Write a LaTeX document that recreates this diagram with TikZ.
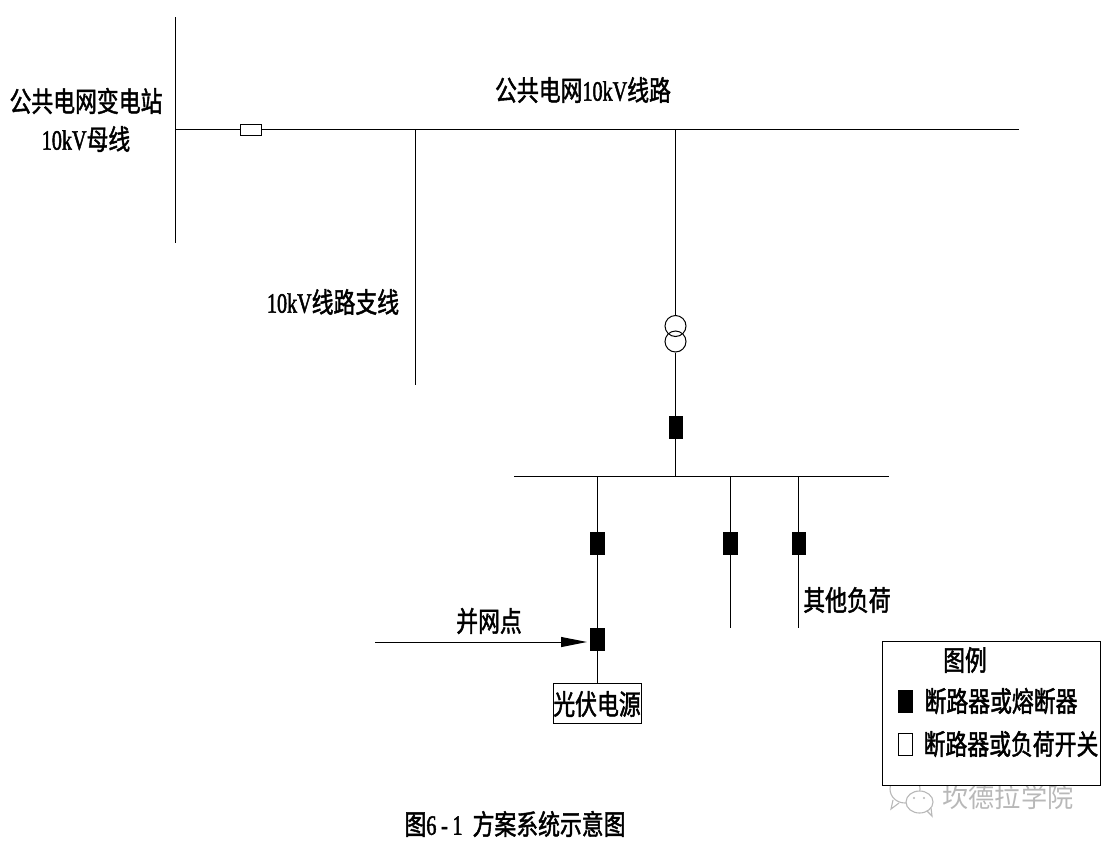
\documentclass[tikz,border=0pt]{standalone}
\usepackage{fontspec}
\usepackage{tikz}
\usetikzlibrary{arrows.meta}
\setmainfont{Noto Sans CJK SC}[FakeStretch=0.78,FakeBold=1.6]
\newfontfamily\markfont{Noto Sans CJK SC}[FakeStretch=0.97]
\newfontfamily\latfont{Liberation Serif}[FakeStretch=0.72,FakeBold=1.6]
\newcommand{\lat}[1]{{\latfont #1}}
\tikzset{
  wire/.style={line width=1pt,black},
  label/.style={inner sep=0pt,font=\fontsize{28}{34}\selectfont},
  breaker/.style={draw=black,fill=black,minimum width=13pt,minimum height=22pt,inner sep=0pt},
  switchbox/.style={draw=black,fill=white,line width=.8pt,minimum width=21pt,minimum height=11pt,inner sep=0pt},
  coil/.style={circle,draw=black,line width=1pt,minimum size=21pt,inner sep=0pt},
  wmark/.style={black!28,line width=1.1pt}
}
\begin{document}
\begin{tikzpicture}[x=1pt,y=-1pt]
\useasboundingbox (0,0) rectangle (1111,847);
\coordinate (bustop) at (175.5,17);
\coordinate (busbot) at (175.5,243);
\coordinate (feedstart) at (175.5,129);
\coordinate (feedend) at (1019,129);
\coordinate (tapone) at (415,129);
\coordinate (taponeend) at (415,385);
\coordinate (taptwo) at (675,129);
\coordinate (lvleft) at (514,476);
\coordinate (lvright) at (889,476);
\coordinate (lvmid) at (675,476);
\coordinate (lvone) at (597,476);
\coordinate (lvtwo) at (730,476);
\coordinate (lvthree) at (798,476);
\coordinate (loadtwo) at (730,628);
\coordinate (loadthree) at (798,628);
\coordinate (arrowstart) at (375,642);
\coordinate (arrowend) at (587,642);
\draw[wire] (bustop) -- (busbot);
\draw[wire] (feedstart) -- (feedend);
\draw[wire] (tapone) -- (taponeend);
\node[coil] (coilup) at (675.5,326) {};
\node[coil] (coildown) at (675.5,341.5) {};
\draw[wire] (taptwo) -- (coilup.north -| taptwo);
\draw[wire] (coildown.south -| lvmid) -- (lvmid);
\draw[wire] (lvleft) -- (lvright);
\node[switchbox] (fuse) at (251,129.5) {};
\node[breaker] (brkmain) at (675.5,427) {};
\node[draw=black,fill=white,line width=.8pt,minimum width=88pt,minimum height=40pt,inner sep=0pt] (pvbox) at (597,703) {};
\draw[wire] (lvone) -- (pvbox.north -| lvone);
\draw[wire] (lvtwo) -- (loadtwo);
\draw[wire] (lvthree) -- (loadthree);
\node[breaker,minimum width=14pt] (brkone) at (597,543) {};
\node[breaker,minimum width=14pt] (brktwo) at (730,543) {};
\node[breaker] (brkthree) at (798.5,543) {};
\node[breaker,minimum width=14pt] (brkpoint) at (597,639) {};
\draw[wire,-{Triangle[length=26pt,width=10pt]}] (arrowstart) -- (arrowend);
\node[label] (busname) at (86,101) {公共电网变电站};
\node[label] (busvolt) at (86,139) {\lat{10kV}母线};
\node[label] (linename) at (583,90) {公共电网\lat{10kV}线路};
\node[label] (tapname) at (333,302) {\lat{10kV}线路支线};
\node[label] (loadname) at (847,600) {其他负荷};
\node[label] (pointname) at (489,621) {并网点};
\node[label] (pvname) at (597,704) {光伏电源};
\node[label] (caption) at (515,824) {图\lat{6\,-\,1\ \ }方案系统示意图};
\node[inner sep=0pt,text=black!28,font=\markfont\fontsize{27}{30}\selectfont] (markname) at (1008,797) {坎德拉学院};
\draw[wmark] (905,789) ellipse (15pt and 14pt);
\draw[wmark] (893,800) -- (891,809) -- (899,803);
\draw[wmark,fill=white] (919.5,802) ellipse (13.5pt and 11pt);
\draw[wmark] (927,811) -- (932,816) -- (931,808);
\fill[black!28] (914,798) circle (1.2pt) (924,798) circle (1.2pt);
\node[draw=black,fill=white,line width=.8pt,minimum width=218pt,minimum height=144pt,inner sep=0pt] (legend) at (991,713) {};
\node[label] (legendname) at (965,660) {图例};
\node[breaker,minimum width=14pt] (legendblack) at (905,701) {};
\node[draw=black,fill=white,line width=.8pt,minimum width=14pt,minimum height=22pt,inner sep=0pt] (legendwhite) at (905,744) {};
\node[label] (legendone) at (1001,701) {断路器或熔断器};
\node[label] (legendtwo) at (1011,744) {断路器或负荷开关};
\end{tikzpicture}
\end{document}
